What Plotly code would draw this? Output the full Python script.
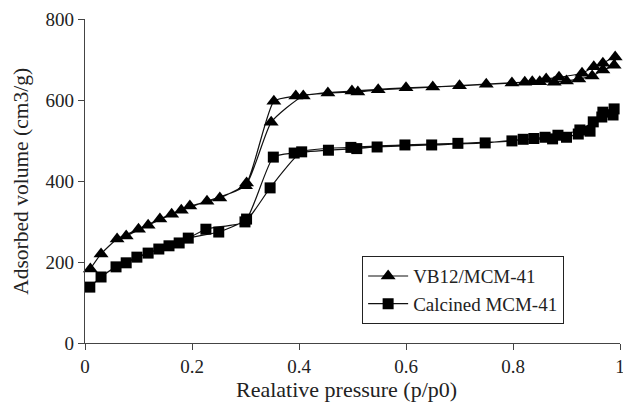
import plotly.graph_objects as go

# VB12/MCM-41 (adsorption then desorption)
vb_ads_x = [0.01, 0.03, 0.06, 0.10, 0.14, 0.18, 0.228, 0.30, 0.348, 0.408, 0.499, 0.60, 0.70, 0.798, 0.836, 0.862, 0.886, 0.929, 0.951, 0.968, 0.991]
vb_ads_y = [183, 220, 257, 281, 306, 328, 350, 388, 545, 610, 622, 630, 635, 642, 645, 652, 656, 666, 682, 691, 706]
vb_des_x = [0.989, 0.968, 0.948, 0.923, 0.90, 0.877, 0.85, 0.822, 0.75, 0.65, 0.548, 0.51, 0.454, 0.394, 0.353, 0.302, 0.252, 0.196, 0.162, 0.118, 0.077]
vb_des_y = [686, 674, 659, 652, 647, 644, 645, 644, 639, 632, 625, 620, 617, 610, 597, 395, 358, 338, 318, 291, 264]

# Calcined MCM-41 (adsorption then desorption)
cal_ads_x = [0.009, 0.03, 0.058, 0.097, 0.138, 0.176, 0.226, 0.299, 0.346, 0.405, 0.497, 0.598, 0.697, 0.798, 0.839, 0.86, 0.884, 0.925, 0.95, 0.968, 0.989]
cal_ads_y = [138, 163, 188, 212, 232, 247, 281, 299, 383, 472, 483, 489, 493, 499, 505, 508, 513, 526, 546, 570, 578]
cal_des_x = [0.987, 0.966, 0.944, 0.922, 0.90, 0.874, 0.819, 0.748, 0.648, 0.546, 0.508, 0.455, 0.391, 0.352, 0.302, 0.25, 0.193, 0.157, 0.118, 0.077]
cal_des_y = [563, 558, 523, 516, 508, 504, 503, 494, 489, 484, 480, 476, 469, 459, 306, 274, 259, 240, 222, 198]

x_ticks = [0, 0.2, 0.4, 0.6, 0.8, 1]
x_tick_labels = ["0", "0.2", "0.4", "0.6", "0.8", "1"]
y_ticks = [0, 200, 400, 600, 800]

x_title = "Realative pressure (p/p0)"
y_title = "Adsorbed volume (cm3/g)"

FONT = "Liberation Serif, Times New Roman, serif"
TXT = "#222"

fig = go.Figure()
fig.add_trace(go.Scatter(
    x=vb_ads_x + vb_des_x, y=vb_ads_y + vb_des_y, name="VB12/MCM-41",
    mode="lines+markers", line=dict(color="#111", width=1.2, shape="spline", smoothing=0.5),
    marker=dict(symbol="triangle-up", size=13, color="black"), cliponaxis=False))
fig.add_trace(go.Scatter(
    x=cal_ads_x + cal_des_x, y=cal_ads_y + cal_des_y, name="Calcined MCM-41",
    mode="lines+markers", line=dict(color="#111", width=1.2, shape="spline", smoothing=0.5),
    marker=dict(symbol="square", size=11, color="black"), cliponaxis=False))

axis_common = dict(showgrid=False, zeroline=False, showline=True, linecolor="#444", linewidth=1.2,
                   ticks="outside", ticklen=6, tickcolor="#444", tickwidth=1.2, automargin=False,
                   ticklabeloverflow="allow",
                   tickfont=dict(family=FONT, size=19, color=TXT), mirror=False)
fig.update_xaxes(range=[0, 1], tickvals=x_ticks, ticktext=x_tick_labels, **axis_common)
fig.update_yaxes(range=[0, 800], tickvals=y_ticks, **axis_common)

fig.add_annotation(text=x_title, xref="paper", yref="paper", x=0.488, y=-0.145,
                   xanchor="center", yanchor="middle", showarrow=False,
                   font=dict(family=FONT, size=22, color=TXT))
fig.add_annotation(text=y_title, xref="paper", yref="paper", x=-0.12, y=0.5,
                   xanchor="center", yanchor="middle", showarrow=False, textangle=-90,
                   font=dict(family=FONT, size=21.5, color=TXT))

fig.update_layout(
    width=623, height=404, margin=dict(l=85, r=3, t=19, b=61),
    plot_bgcolor="white", paper_bgcolor="white",
    font=dict(family=FONT, color=TXT),
    legend=dict(x=0.518, y=0.268, xanchor="left", yanchor="top", bordercolor="#222", borderwidth=1,
                bgcolor="white", font=dict(family=FONT, size=19, color=TXT),
                itemwidth=40, tracegroupgap=0),
    showlegend=True,
)
fig.write_html("out.html", config={"displayModeBar": False},
               post_script="document.body.style.margin='0';document.body.style.overflow='hidden';")
